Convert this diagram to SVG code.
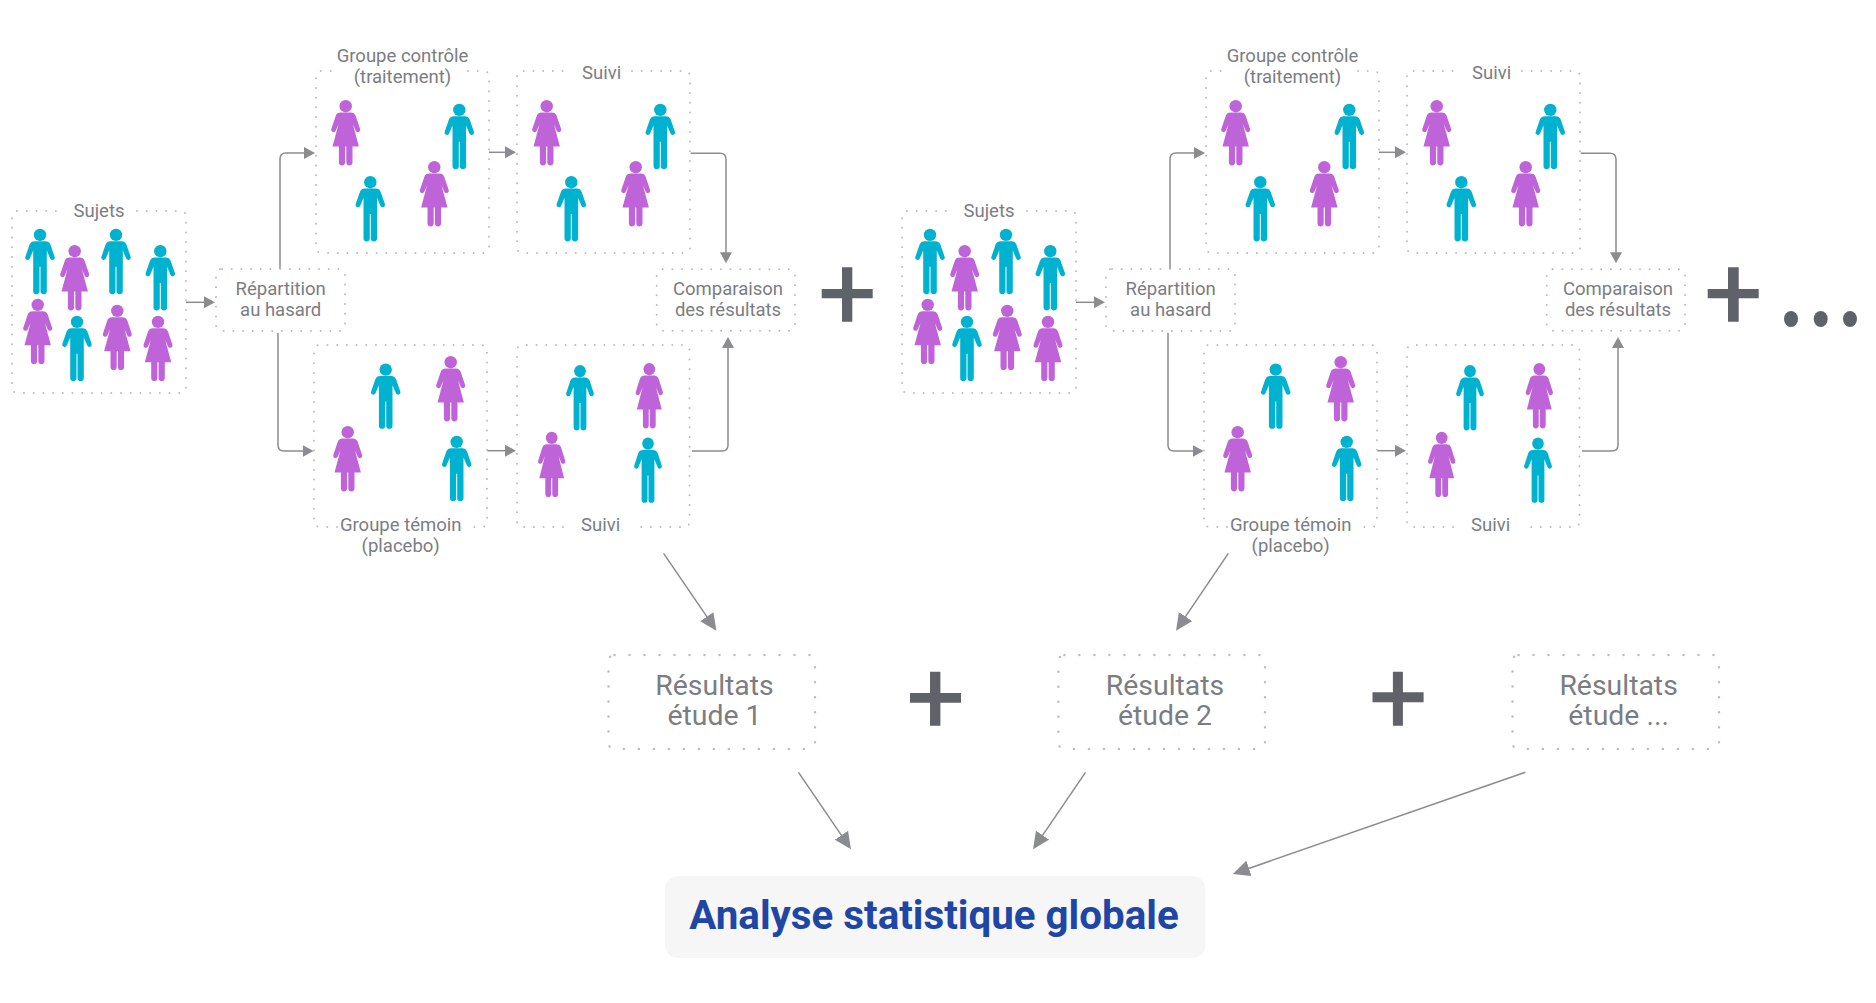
<svg xmlns="http://www.w3.org/2000/svg" width="1876" height="1003" viewBox="0 0 1876 1003">
<style>
.dot{fill:none;stroke:#bcbdbf;stroke-width:2;stroke-linecap:round;stroke-dasharray:0 9.7}
.dot2{fill:none;stroke:#bcbdbf;stroke-width:2.5;stroke-linecap:round;stroke-dasharray:0 15}
.c{fill:none;stroke:#8a8c8f;stroke-width:1.5}
.s{marker-end:url(#sa)}
.b{marker-end:url(#ba)}
text{font-family:Roboto,"Liberation Sans",sans-serif;text-anchor:middle;fill:#7b7d82}
.t{font-size:18.5px}
.r{font-size:28.4px}
.plus{fill:#5f6268}
</style>
<defs>
<marker id="sa" markerUnits="userSpaceOnUse" markerWidth="12" markerHeight="14" refX="8" refY="6.5" orient="auto"><path d="M0 .5L11 6.5L0 12.5Z" fill="#8a8c8f"/></marker>
<marker id="ba" markerUnits="userSpaceOnUse" markerWidth="18" markerHeight="18" refX="14" refY="8" orient="auto"><path d="M0 0L17 8L0 16Z" fill="#8a8c8f"/></marker>
<g id="man" fill="#00b2cf"><circle cx="0" cy="5.9" r="6.2"/><path d="M-5.5 12.2H5.5C7.8 12.2 9.6 13.4 10.4 15.6L14.7 28A2.4 2.4 0 0 1 10.2 29.6L6.8 21.5V62A3.1 3.1 0 0 1 .5 62V37.7H-.5V62A3.1 3.1 0 0 1 -6.8 62V21.5L-10.2 29.6A2.4 2.4 0 0 1 -14.7 28L-10.4 15.6C-9.6 13.4 -7.8 12.2 -5.5 12.2Z"/></g>
<g id="woman" fill="#bf63d9"><circle cx="0" cy="5.9" r="6.2"/><path d="M-5 12.2H5C7.5 12.2 9.3 13.4 10 15.6L14.5 29A2.4 2.4 0 0 1 10 30.5L7.2 24L13.2 46.3H6.8V62A3.1 3.1 0 0 1 .6 62V46.3H-.6V62A3.1 3.1 0 0 1 -6.8 62V46.3H-13.2L-7.2 24L-10 30.5A2.4 2.4 0 0 1 -14.5 29L-10 15.6C-9.3 13.4 -7.5 12.2 -5 12.2Z"/></g>
<g id="people-subjects"><use href="#man" x="40" y="229"/><use href="#man" x="116" y="229"/><use href="#man" x="160.3" y="245.3"/><use href="#man" x="77" y="316"/><use href="#woman" x="74.7" y="245.3"/><use href="#woman" x="37.7" y="299"/><use href="#woman" x="117.3" y="305"/><use href="#woman" x="158" y="316"/></g>
<g id="people-c1"><use href="#woman" x="345.7" y="100.3"/><use href="#woman" x="434.3" y="161.3"/><use href="#man" x="459.3" y="104"/><use href="#man" x="370.3" y="176.3"/></g>
<g id="people-c2"><use href="#woman" x="546.7" y="100.3"/><use href="#woman" x="635.7" y="161.3"/><use href="#man" x="660.3" y="104"/><use href="#man" x="571.3" y="176.3"/></g>
<g id="people-t1"><use href="#man" x="385.7" y="363.7"/><use href="#man" x="456.7" y="436"/><use href="#woman" x="450.7" y="356.3"/><use href="#woman" x="347.7" y="426.3"/></g>
<g id="people-t2"><use href="#man" transform="translate(580 365.3) scale(.94 1)"/><use href="#man" transform="translate(648 437.7) scale(.94 1)"/><use href="#woman" transform="translate(649.3 363.3) scale(.94 1)"/><use href="#woman" transform="translate(551.7 432) scale(.94 1)"/></g>
</defs>

<g id="connectors">
<g id="study1-connectors">
<path class="c s" d="M186 302.3H212"/>
<path class="c s" d="M280 269V159Q280 153 286 153H312"/>
<path class="c s" d="M278 333V445Q278 451 284 451H310.5"/>
<path class="c s" d="M489 152.3H513"/>
<path class="c s" d="M487.3 450.7H513"/>
<path class="c s" d="M690.7 153.3H720Q726 153.3 726 159.3V260.3"/>
<path class="c s" d="M692 451H722Q728 451 728 445V340"/>
</g>
<g id="study2-connectors" transform="translate(890 0)">
<path class="c s" d="M186 302.3H212"/>
<path class="c s" d="M280 269V159Q280 153 286 153H312"/>
<path class="c s" d="M278 333V445Q278 451 284 451H310.5"/>
<path class="c s" d="M489 152.3H513"/>
<path class="c s" d="M487.3 450.7H513"/>
<path class="c s" d="M690.7 153.3H720Q726 153.3 726 159.3V260.3"/>
<path class="c s" d="M692 451H722Q728 451 728 445V340"/>
</g>
<path class="c b" d="M663.6 553.3L714.7 628.2"/>
<path class="c b" d="M1228.3 553.3L1177.7 628.2"/>
<path class="c b" d="M798.5 772.3L849.3 846.8"/>
<path class="c b" d="M1085.5 772.3L1034.7 846.8"/>
<path class="c b" d="M1525.4 772.3L1235.7 873"/>
</g>

<g id="sujets-1"><path class="dot" d="M137 211H180Q186 211 186 217V387Q186 393 180 393H18Q12 393 12 387V217Q12 211 18 211H63"/><text class="t" x="99" y="217.3">Sujets</text><use href="#people-subjects"/></g>
<g id="repartition-1"><rect class="dot" x="216" y="269" width="129" height="62" rx="6"/><text class="t" x="280.7" y="295">Répartition</text><text class="t" x="280.7" y="316">au hasard</text></g>
<g id="controle-1"><path class="dot" d="M468 71H483Q489 71 489 77V247Q489 253 483 253H322Q316 253 316 247V77Q316 71 322 71H340"/><text class="t" x="402.5" y="61.7">Groupe contrôle</text><text class="t" x="402.5" y="82.7">(traitement)</text><use href="#people-c1"/></g>
<g id="suivi-c-1"><path class="dot" d="M632 71H684Q690 71 690 77V247Q690 253 684 253H523Q517 253 517 247V77Q517 71 523 71H570"/><text class="t" x="601.7" y="78.5">Suivi</text><use href="#people-c2"/></g>
<g id="temoin-1"><path class="dot" d="M337 527H320Q314 527 314 521V351Q314 345 320 345H481Q487 345 487 351V521Q487 527 481 527H473"/><text class="t" x="400.7" y="530.7">Groupe témoin</text><text class="t" x="400.7" y="551.7">(placebo)</text><use href="#people-t1"/></g>
<g id="suivi-t-1"><path class="dot" d="M563 527H523Q517 527 517 521V351Q517 345 523 345H683.5Q689.5 345 689.5 351V521Q689.5 527 683.5 527H638"/><text class="t" x="600.7" y="530.7">Suivi</text><use href="#people-t2"/></g>
<g id="comparaison-1"><rect class="dot" x="656.7" y="269.3" width="138.3" height="61.4" rx="6"/><text class="t" x="728" y="295">Comparaison</text><text class="t" x="728" y="316">des résultats</text></g>

<g id="plus-1"><path class="plus" d="M842 267.3H852.3V289H872.7V298.3H852.3V321.7H842V298.3H821.7V289H842Z"/></g>

<g id="study2" transform="translate(890 0)">
<g id="sujets-2"><path class="dot" d="M137 211H180Q186 211 186 217V387Q186 393 180 393H18Q12 393 12 387V217Q12 211 18 211H63"/><text class="t" x="99" y="217.3">Sujets</text><use href="#people-subjects"/></g>
<g id="repartition-2"><rect class="dot" x="216" y="269" width="129" height="62" rx="6"/><text class="t" x="280.7" y="295">Répartition</text><text class="t" x="280.7" y="316">au hasard</text></g>
<g id="controle-2"><path class="dot" d="M468 71H483Q489 71 489 77V247Q489 253 483 253H322Q316 253 316 247V77Q316 71 322 71H340"/><text class="t" x="402.5" y="61.7">Groupe contrôle</text><text class="t" x="402.5" y="82.7">(traitement)</text><use href="#people-c1"/></g>
<g id="suivi-c-2"><path class="dot" d="M632 71H684Q690 71 690 77V247Q690 253 684 253H523Q517 253 517 247V77Q517 71 523 71H570"/><text class="t" x="601.7" y="78.5">Suivi</text><use href="#people-c2"/></g>
<g id="temoin-2"><path class="dot" d="M337 527H320Q314 527 314 521V351Q314 345 320 345H481Q487 345 487 351V521Q487 527 481 527H473"/><text class="t" x="400.7" y="530.7">Groupe témoin</text><text class="t" x="400.7" y="551.7">(placebo)</text><use href="#people-t1"/></g>
<g id="suivi-t-2"><path class="dot" d="M563 527H523Q517 527 517 521V351Q517 345 523 345H683.5Q689.5 345 689.5 351V521Q689.5 527 683.5 527H638"/><text class="t" x="600.7" y="530.7">Suivi</text><use href="#people-t2"/></g>
<g id="comparaison-2"><rect class="dot" x="656.7" y="269.3" width="138.3" height="61.4" rx="6"/><text class="t" x="728" y="295">Comparaison</text><text class="t" x="728" y="316">des résultats</text></g>
</g>

<g id="plus-2"><path class="plus" d="M1728 267.3H1738.7V289H1758.7V298.3H1738.7V321.7H1728V298.3H1707.7V289H1728Z"/></g>
<g id="ellipsis"><ellipse class="plus" cx="1791" cy="319" rx="7" ry="8"/><ellipse class="plus" cx="1820.7" cy="319" rx="7" ry="8"/><ellipse class="plus" cx="1850" cy="319" rx="7" ry="8"/></g>

<g id="resultats-1"><rect class="dot2" x="608.5" y="655" width="206.5" height="94" rx="6"/><text class="r" x="714.5" y="695">Résultats</text><text class="r" x="714.5" y="725.3">étude 1</text></g>
<g id="plus-3"><path class="plus" d="M930 671.7H940.4V693H961V702.7H940.4V725.7H930V702.7H910V693H930Z"/></g>
<g id="resultats-2"><rect class="dot2" x="1058.4" y="655" width="206.6" height="94" rx="6"/><text class="r" x="1165" y="695">Résultats</text><text class="r" x="1165" y="725.3">étude 2</text></g>
<g id="plus-4"><path class="plus" d="M1392.9 671.7H1402.9V692.3H1423.6V702.3H1402.9V725.7H1392.9V702.3H1372.5V692.3H1392.9Z"/></g>
<g id="resultats-3"><rect class="dot2" x="1512.5" y="655" width="206.5" height="94" rx="6"/><text class="r" x="1618.6" y="695">Résultats</text><text class="r" x="1618.6" y="725.3">étude ...</text></g>

<g id="analyse"><rect x="665" y="876" width="540.3" height="82" rx="13" fill="#f6f6f7"/><text x="934" y="928.6" style="font-size:40.3px;font-weight:700;fill:#2046a5">Analyse statistique globale</text></g>
</svg>
